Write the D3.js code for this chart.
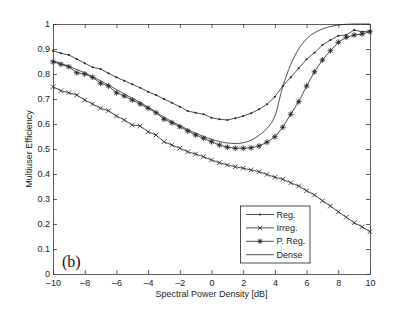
<!DOCTYPE html>
<html>
<head>
<meta charset="utf-8">
<script src="https://cdn.jsdelivr.net/npm/d3@7"></script>
<style>
  body { margin: 0; background: #fff; }
  svg { display: block; }
  .axis text { font-family: 'Liberation Sans', Arial, sans-serif; font-size: 9px; fill: #222; }
  .axis path, .axis line { stroke: #333; stroke-width: 0.8; }
</style>
</head>
<body>
<div id="graph"></div>
<script>
// spectral power density in dB, 0.5 dB steps
var snr = d3.range(-10, 10.01, 0.5);

var reg = [0.893, 0.883, 0.876, 0.860, 0.843, 0.827, 0.820, 0.803, 0.787, 0.773,
  0.759, 0.745, 0.729, 0.716, 0.700, 0.685, 0.669, 0.652, 0.645, 0.639,
  0.625, 0.619, 0.616, 0.623, 0.632, 0.643, 0.659, 0.679, 0.709, 0.752,
  0.787, 0.823, 0.859, 0.885, 0.916, 0.936, 0.953, 0.956, 0.976, 0.969, 0.973];

var irreg = [0.749, 0.733, 0.725, 0.716, 0.696, 0.680, 0.663, 0.653, 0.632, 0.616,
  0.596, 0.592, 0.569, 0.556, 0.529, 0.516, 0.503, 0.489, 0.480, 0.469,
  0.456, 0.445, 0.436, 0.429, 0.423, 0.416, 0.409, 0.398, 0.387, 0.379,
  0.365, 0.352, 0.333, 0.316, 0.293, 0.272, 0.249, 0.227, 0.205, 0.189, 0.169];

var preg = [0.849, 0.839, 0.829, 0.805, 0.800, 0.787, 0.763, 0.752, 0.725, 0.712,
  0.696, 0.680, 0.663, 0.645, 0.619, 0.605, 0.589, 0.572, 0.556, 0.543,
  0.529, 0.516, 0.507, 0.503, 0.503, 0.505, 0.512, 0.527, 0.549, 0.587,
  0.639, 0.689, 0.752, 0.809, 0.856, 0.893, 0.927, 0.947, 0.956, 0.960, 0.969];

var dense = [0.853, 0.842, 0.831, 0.818, 0.805, 0.789, 0.773, 0.756, 0.738, 0.720,
  0.703, 0.686, 0.668, 0.648, 0.627, 0.610, 0.594, 0.578, 0.563, 0.550,
  0.539, 0.530, 0.524, 0.522, 0.525, 0.535, 0.555, 0.582, 0.632, 0.750,
  0.838, 0.900, 0.940, 0.965, 0.980, 0.990, 0.996, 0.999, 1.000, 1.000, 1.000];

var seriesNames = ['Reg.', 'Irreg.', 'P. Reg.', 'Dense'];
var xTicks = [-10, -8, -6, -4, -2, 0, 2, 4, 6, 8, 10];
var yTicks = [0, 0.1, 0.2, 0.3, 0.4, 0.5, 0.6, 0.7, 0.8, 0.9, 1];

var margin = { top: 24, right: 39, bottom: 35, left: 53 };
var canvasWidth = 409;
var canvasHeight = 309;
var width = canvasWidth - margin.left - margin.right;
var height = canvasHeight - margin.top - margin.bottom;

var svg = d3.select('#graph')
  .append('svg')
  .attr('width', canvasWidth)
  .attr('height', canvasHeight);

var graphArea = svg.append('g')
  .attr('transform', 'translate(' + margin.left + ',' + margin.top + ')');

var xScale = d3.scaleLinear().domain([-10, 10]).range([0, width]);
var yScale = d3.scaleLinear().domain([0, 1]).range([height, 0]);

var fmtX = function(d) { return d < 0 ? '\u2013' + Math.abs(d) : String(d); };
var fmtY = function(d) { return String(d); };

// axes with inward ticks, box all round
graphArea.append('g')
  .attr('class', 'axis')
  .attr('transform', 'translate(0,' + height + ')')
  .call(d3.axisBottom(xScale).tickValues(xTicks).tickFormat(fmtX).tickSizeInner(-4).tickSizeOuter(0).tickPadding(6));
graphArea.append('g')
  .attr('class', 'axis')
  .call(d3.axisTop(xScale).tickValues(xTicks).tickFormat('').tickSizeInner(-4).tickSizeOuter(0));
graphArea.append('g')
  .attr('class', 'axis')
  .call(d3.axisLeft(yScale).tickValues(yTicks).tickFormat(fmtY).tickSizeInner(-4).tickSizeOuter(0).tickPadding(3));
graphArea.append('g')
  .attr('class', 'axis')
  .attr('transform', 'translate(' + width + ',0)')
  .call(d3.axisRight(yScale).tickValues(yTicks).tickFormat('').tickSizeInner(-4).tickSizeOuter(0));

var line = d3.line()
  .x(function(d, i) { return xScale(snr[i]); })
  .y(function(d) { return yScale(d); });

var lineColor = '#222';

function drawSeries(values, curve) {
  graphArea.append('path')
    .datum(values)
    .attr('fill', 'none')
    .attr('stroke', lineColor)
    .attr('stroke-width', 0.8)
    .attr('d', line.curve(curve || d3.curveLinear));
  line.curve(d3.curveLinear);
}

drawSeries(dense, d3.curveMonotoneX);
drawSeries(reg);
drawSeries(irreg);
drawSeries(preg);

// marker shapes
function dotMarker(g) {
  g.append('circle').attr('r', 1.1).attr('fill', lineColor);
}
function crossMarker(g) {
  g.append('path').attr('d', 'M-2.3,-2.3L2.3,2.3M-2.3,2.3L2.3,-2.3')
    .attr('stroke', lineColor).attr('stroke-width', 0.8);
}
function starMarker(g) {
  g.append('path').attr('d', 'M-2.9,0L2.9,0M0,-2.9L0,2.9M-2.1,-2.1L2.1,2.1M-2.1,2.1L2.1,-2.1')
    .attr('stroke', '#333').attr('stroke-width', 0.9);
  g.append('circle').attr('r', 1).attr('fill', '#222');
}

function drawMarkers(values, shape) {
  graphArea.append('g').selectAll('g')
    .data(values)
    .enter()
    .append('g')
    .attr('transform', function(d, i) { return 'translate(' + xScale(snr[i]) + ',' + yScale(d) + ')'; })
    .each(function() { shape(d3.select(this)); });
}

drawMarkers(reg, dotMarker);
drawMarkers(irreg, crossMarker);
drawMarkers(preg, starMarker);

// legend
var legendX = 240.5 - margin.left;
var legendY = 206 - margin.top;
var legend = graphArea.append('g')
  .attr('transform', 'translate(' + legendX + ',' + legendY + ')');
legend.append('rect')
  .attr('width', 69.5)
  .attr('height', 57)
  .attr('fill', '#fff')
  .attr('stroke', '#222')
  .attr('stroke-width', 0.8);
var shapes = [dotMarker, crossMarker, starMarker, null];
seriesNames.forEach(function(name, i) {
  var yy = 8.5 + i * 13.4;
  legend.append('line')
    .attr('x1', 5.5).attr('x2', 33.5)
    .attr('y1', yy).attr('y2', yy)
    .attr('stroke', lineColor).attr('stroke-width', 0.8);
  if (shapes[i]) {
    var m = legend.append('g').attr('transform', 'translate(19.5,' + yy + ')');
    shapes[i](m);
  }
  legend.append('text')
    .attr('x', 36)
    .attr('y', yy)
    .attr('dy', '0.35em')
    .attr('font-family', "'Liberation Sans', Arial, sans-serif")
    .attr('font-size', '9px')
    .attr('fill', '#222')
    .text(name);
});

// panel label
graphArea.append('text')
  .attr('x', 9)
  .attr('y', height - 7)
  .attr('font-family', "'Liberation Serif', 'Times New Roman', serif")
  .attr('font-size', '16px')
  .attr('fill', '#111')
  .text('(b)');

// axis titles
svg.append('text')
  .attr('x', margin.left + width / 2)
  .attr('y', 297)
  .attr('text-anchor', 'middle')
  .attr('font-family', "'Liberation Sans', Arial, sans-serif")
  .attr('font-size', '9px')
  .attr('fill', '#222')
  .text('Spectral Power Density [dB]');

svg.append('text')
  .attr('transform', 'translate(32,' + (margin.top + height / 2) + ') rotate(-90)')
  .attr('text-anchor', 'middle')
  .attr('font-family', "'Liberation Sans', Arial, sans-serif")
  .attr('font-size', '9px')
  .attr('fill', '#222')
  .text('Multiuser Efficiency');
</script>
</body>
</html>
